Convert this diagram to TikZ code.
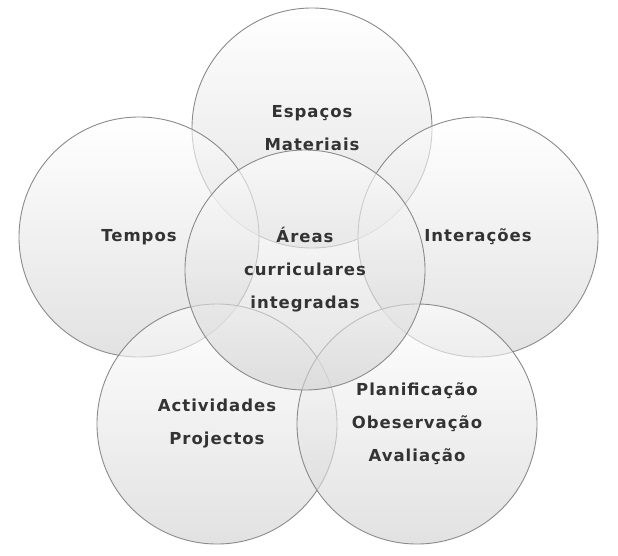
\documentclass[tikz,border=0pt]{standalone}
\usepackage{fontspec}
\newfontfamily\labelfont[LetterSpace=6]{DejaVu Sans Bold}
\definecolor{ringline}{HTML}{8A8A8A}
\definecolor{ringbottom}{HTML}{D0D0D0}
\definecolor{labeltext}{HTML}{333333}
\begin{document}
\begin{tikzpicture}[x=1pt,y=-1pt,
  ring/.style={circle, minimum size=240pt, inner sep=0pt, draw=ringline, line width=0.9pt,
    top color=white, bottom color=ringbottom, fill opacity=0.62, draw opacity=1, text opacity=1,
    align=center, text=labeltext, font=\labelfont\fontsize{16.5}{33}\selectfont}]
\useasboundingbox (0,0) rectangle (618,555);
\node[ring] (top) at (312,128) {Espaços\\Materiais};
\node[ring] (left) at (139,237) {Tempos};
\node[ring] (right) at (478,237) {Interações};
\node[ring] (bl) at (217,424) {Actividades\\Projectos};
\node[ring] (br) at (417,424) {Planificação\\Obeservação\\Avaliação};
\node[ring] (center) at (305,270) {Áreas\\curriculares\\integradas};
\end{tikzpicture}
\end{document}
